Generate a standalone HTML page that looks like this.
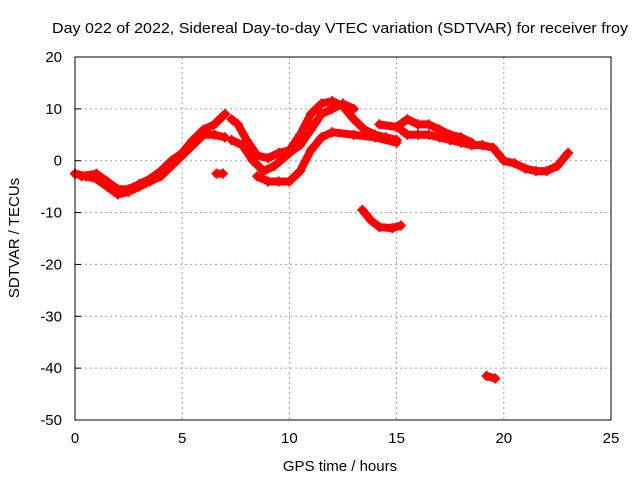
<!DOCTYPE html>
<html><head><meta charset="utf-8"><style>
body{margin:0;background:#fff;}
svg{font-family:"Liberation Sans",sans-serif;}
</style></head><body>
<svg id="chart" width="640" height="480">
<rect width="640" height="480" fill="#fff"/>
<text x="52" y="33" font-size="15" textLength="576" lengthAdjust="spacingAndGlyphs">Day 022 of 2022, Sidereal Day-to-day VTEC variation (SDTVAR) for receiver froy</text>
<text x="340" y="471" font-size="15" text-anchor="middle">GPS time / hours</text>
<text transform="translate(19,238) rotate(-90)" font-size="15" text-anchor="middle">SDTVAR / TECUs</text>
<g id="grid"></g><g id="ticks"></g><g id="series"></g>
<rect x="75" y="57" width="536" height="363" fill="none" stroke="#000" stroke-width="1"/>
</svg>
<script>
const xTicks=[0,5,10,15,20,25];
const yTicks=[20,10,0,-10,-20,-30,-40,-50];
const track1=[[0.3,-3],[1,-2.5],[1.5,-4],[2,-5.5],[2.5,-5.5],[3,-4.5],[3.5,-3.5],[4,-2],[4.5,0],[5,1.5],[5.5,4],[6,6],[6.5,7],[7,9]];
const track1b=[[0,-2.5],[0.5,-3],[1,-3.5],[1.5,-5],[2,-6.5],[2.5,-6],[3,-5],[3.5,-4],[4,-3],[4.5,-1],[5,1],[5.5,3],[6,5],[6.5,5],[7,4.5]];
const track1c=[[6.6,-2.5],[6.9,-2.5]];
const track2=[[7.3,8],[7.6,7],[8,4],[8.5,1],[9,0.5],[9.5,1.5],[10,2],[10.5,5],[11,9],[11.5,11],[12,11.5],[12.5,10.5],[13,8],[13.5,6],[14,5],[14.5,4.5],[15,4]];
const track3=[[7.3,4],[7.8,3],[8.3,0],[8.8,-2],[9.3,-1],[10,1.5],[10.5,3],[11,6],[11.5,9],[12,10],[12.5,11],[13,10]];
const track4=[[8.5,-3],[9,-4],[9.5,-4],[10,-4],[10.5,-2],[11,2],[11.5,4.5],[12,5.5],[13,5],[14,4.5],[15,3.5]];
const track5=[[13.4,-9.5],[13.8,-11.5],[14.2,-12.8],[14.8,-13],[15.2,-12.5]];
const track6=[[15.2,6],[15.5,5],[16,5],[16.5,5],[17,4.5],[17.5,4],[18,3.5],[18.5,3],[19,3],[19.5,2.5],[20,0],[20.5,-0.5],[21,-1.5],[21.5,-2],[22,-2],[22.5,-1],[23,1.5]];
const track7=[[14.2,7],[15,6.5],[15.5,8],[16,7],[16.5,7],[17,6],[17.5,5],[18,4.5],[18.5,3.5]];
const track8=[[19.2,-41.5],[19.6,-42]];
const tracks=[track1,track1b,track1c,track2,track3,track4,track5,track6,track7,track8];
const X=h=>75+h*536/25, Y=v=>57+(20-v)*363/70;
const NS="http://www.w3.org/2000/svg";
const grid=document.getElementById('grid'),ticks=document.getElementById('ticks'),series=document.getElementById('series');
function mk(tag,attrs,parent){const e=document.createElementNS(NS,tag);for(const k in attrs)e.setAttribute(k,attrs[k]);parent.appendChild(e);return e;}
xTicks.forEach(t=>{
  if(t>0&&t<25){const g=mk('line',{x1:X(t),x2:X(t),y1:57,y2:420,stroke:'#a0a0a0','stroke-dasharray':'2,3'},grid);
  
  }
  const l=mk('text',{x:X(t),y:443,'font-size':15,'text-anchor':'middle'},ticks);l.textContent=t;
  
  
});
yTicks.forEach(t=>{
  if(t<20&&t>-50){const g=mk('line',{x1:75,x2:611,y1:Y(t),y2:Y(t),stroke:'#a0a0a0','stroke-dasharray':'2,3'},grid);
  
  }
  mk('line',{x1:75,x2:81,y1:Y(t),y2:Y(t),stroke:'#000'},ticks);
  const l=mk('text',{x:62,y:Y(t)+5,'font-size':15,'text-anchor':'end'},ticks);l.textContent=t;
  
  
});
tracks.forEach(tr=>{
  const p=mk('polyline',{points:tr.map(d=>X(d[0])+','+Y(d[1])).join(' '),fill:'none',stroke:'#f00','stroke-width':8,'stroke-linejoin':'round','stroke-linecap':'round'},series);
  
  
  tr.forEach(d=>{
    const m=mk('path',{d:`M${X(d[0])-5},${Y(d[1])}h10M${X(d[0])},${Y(d[1])-5}v10`,stroke:'#f00','stroke-width':2},series);
    
    
  });
});
</script>
</body></html>
